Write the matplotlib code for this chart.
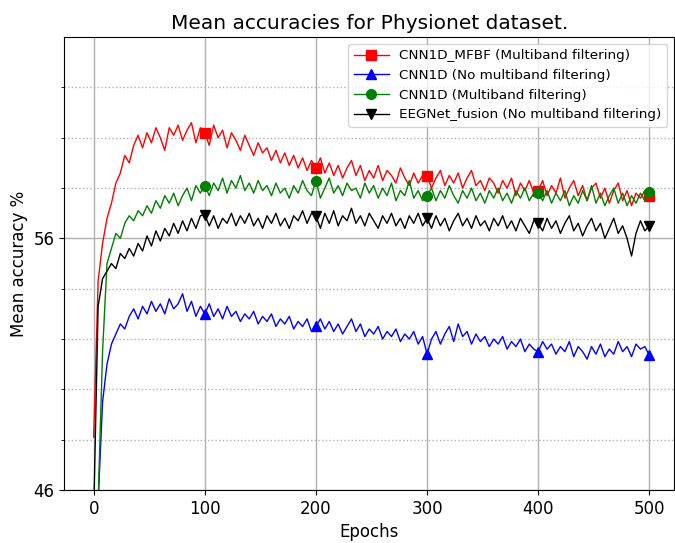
import numpy as np
import matplotlib
matplotlib.use("Agg")
import matplotlib.pyplot as plt
from matplotlib.ticker import MultipleLocator, FixedLocator

epochs = list(range(0, 501, 4))

red_mfbf = [
    48.1, 54.3, 55.8, 56.8, 57.4, 58.2, 58.6, 59.3, 59.0, 59.7,
    60.1, 59.6, 60.2, 59.8, 60.4, 60.0, 59.5, 60.4, 60.1, 60.5,
    59.9, 60.3, 60.6, 59.8, 60.4, 60.2, 59.7, 60.5, 60.0, 60.3,
    59.6, 60.2, 59.9, 59.5, 60.1, 59.7, 59.3, 59.8, 59.4, 59.6,
    59.1, 59.5, 59.0, 59.4, 58.9, 59.3, 58.8, 59.2, 58.7, 59.1,
    58.8, 59.2, 58.6, 59.0, 58.5, 58.9, 58.4, 58.8, 59.1, 58.5,
    58.9, 58.3, 58.7, 58.4, 58.9, 58.3, 58.7, 58.5, 58.2, 58.8,
    58.4, 58.1, 58.6, 58.2, 58.5, 58.5, 58.0, 58.4, 58.7, 58.1,
    58.5, 58.2, 58.6, 58.0, 58.4, 58.7, 58.1, 58.3, 57.9, 58.4,
    58.2, 57.8, 58.3, 58.0, 58.4, 57.7, 58.2, 57.9, 58.3, 57.8,
    57.9, 58.3, 57.7, 58.1, 57.8, 58.4, 57.6, 58.0, 58.3, 57.7,
    58.1, 57.5, 58.0, 58.2, 57.6, 58.0, 57.4, 57.9, 58.2, 57.5,
    57.9, 57.3, 57.8, 57.6, 57.9, 57.7,
]

blue_cnn = [
    43.0, 45.5, 49.5, 51.0, 51.8, 52.2, 52.6, 52.4, 52.9, 53.2,
    52.8, 53.3, 53.0, 53.5, 53.1, 53.4, 53.0, 53.6, 53.2, 53.4,
    53.8, 53.1, 53.5, 52.9, 53.3, 53.0, 53.4, 52.9, 53.2, 52.8,
    53.3, 52.9, 53.1, 52.7, 53.0, 52.8, 53.1, 52.6, 52.9, 52.7,
    53.0, 52.5, 52.8, 52.6, 52.9, 52.4, 52.7, 52.5, 52.8, 52.3,
    52.5, 52.8, 52.4, 52.7, 52.3, 52.6, 52.2, 52.5, 52.8, 52.3,
    52.6, 52.1, 52.4, 52.2, 52.5, 52.0, 52.3, 52.1, 52.4, 51.9,
    52.2, 52.0, 52.3, 51.8, 52.1, 51.4, 52.0, 52.3, 51.8, 52.2,
    52.5, 51.9, 52.6, 52.1, 52.3, 51.8, 52.2, 51.9, 52.1, 51.7,
    52.0, 51.8, 52.1, 51.6, 51.9, 51.7, 52.0, 51.5, 51.8, 51.6,
    51.5, 51.9, 51.6, 51.8, 51.4, 51.7, 51.5, 51.9, 51.3, 51.7,
    51.5, 51.2, 51.7, 51.4, 51.8, 51.3, 51.6, 51.4, 51.9, 51.5,
    51.7, 51.3, 51.8, 51.6, 51.7, 51.35,
]

green_cnn_mb = [
    42.0, 45.5, 51.5, 55.0, 55.6, 56.2, 56.0, 56.6, 56.9, 56.7,
    57.1, 56.9, 57.3, 57.0, 57.5, 57.2, 57.7, 57.4, 57.8, 57.3,
    57.7, 58.0, 57.5, 58.1, 57.8, 58.1, 57.7, 58.2, 57.9, 58.4,
    57.8, 58.3, 58.0, 58.5, 57.9, 58.2, 57.8, 58.3, 57.9, 58.1,
    57.7, 58.2, 57.8, 58.0, 57.6, 58.1, 57.8, 58.3, 57.9, 57.7,
    58.3, 57.6, 58.0, 58.4, 57.8, 58.1, 57.7, 58.2, 57.9, 58.0,
    57.6, 58.2, 57.8, 58.1, 57.6, 58.0, 57.7, 58.2, 57.5, 57.9,
    57.7, 58.3, 57.6, 57.9, 57.5, 57.7, 58.0, 57.5, 57.9, 57.6,
    58.1, 57.7, 57.4, 57.9, 57.6, 58.0, 57.5, 57.8, 57.4, 57.9,
    57.6, 58.0, 57.5, 57.8, 57.4, 57.9, 57.6, 58.0, 57.5, 57.8,
    57.8, 57.5, 57.9, 57.4, 57.8, 57.5, 57.9, 57.3, 57.7, 57.4,
    57.9, 57.5, 58.1, 57.4, 57.8, 57.3, 57.7, 58.0, 57.4, 57.8,
    57.3, 57.7, 57.4, 57.8, 57.5, 57.85,
]

black_eegnet = [
    45.0, 53.3, 54.4, 54.7, 55.0, 54.8, 55.4, 55.2, 55.6, 55.3,
    55.8, 55.5, 56.1, 55.7, 56.3, 55.9, 56.4, 56.1, 56.6, 56.2,
    56.7, 56.3, 56.8, 56.4, 56.9, 56.95, 56.5, 56.9, 56.4, 56.8,
    56.6, 57.0, 56.5, 56.9, 56.6, 57.0, 56.5, 56.8, 56.4, 56.9,
    56.6, 57.0, 56.5, 56.8, 56.4, 56.9, 56.7, 57.1, 56.6, 57.0,
    56.9, 56.4, 57.0, 56.6, 57.1, 56.5, 56.9, 56.7, 57.2, 56.6,
    56.9, 56.5, 57.0, 56.7, 56.4, 56.9, 56.6, 57.0, 56.5, 56.8,
    56.4, 56.9, 56.6, 57.0, 56.5, 56.8, 56.4, 56.9, 56.5, 56.8,
    56.3, 56.7, 57.0, 56.5, 56.8, 56.4, 56.9, 56.5, 56.7, 56.3,
    56.8, 56.5, 56.9, 56.4, 56.7, 56.3, 56.8, 56.5, 56.2, 56.7,
    56.6, 56.3, 56.8, 56.4, 56.7, 56.2, 56.6, 56.9, 56.3, 56.6,
    56.1, 56.5, 56.8, 56.3, 56.6, 56.0, 56.4, 56.8, 56.2, 56.5,
    56.0, 55.3, 56.2, 56.7, 56.3, 56.5,
]

labels = [
    "CNN1D_MFBF (Multiband filtering)",
    "CNN1D (No multiband filtering)",
    "CNN1D (Multiband filtering)",
    "EEGNet_fusion (No multiband filtering)",
]

y_major_ticks = [46, 56, 66]

fig = plt.figure(figsize=(6.75, 5.43), dpi=100)
ax = fig.add_axes([0.0953, 0.0976, 0.9032, 0.834])

series = [red_mfbf, blue_cnn, green_cnn_mb, black_eegnet]
colors = ["red", "blue", "green", "black"]
markers = ["s", "^", "o", "v"]
mark_idx = [i for i, e in enumerate(epochs) if e > 0 and e % 100 == 0]

for ys, c, m, lab in zip(series, colors, markers, labels):
    ax.plot(epochs, ys, color=c, marker=m, markevery=mark_idx,
            markersize=7, linewidth=1, label=lab)

ax.set_xlim(-26.4, 522.2)
ax.set_ylim(46, 64)
ax.xaxis.set_major_locator(MultipleLocator(100))
ax.yaxis.set_major_locator(FixedLocator(y_major_ticks))
ax.yaxis.set_minor_locator(FixedLocator(list(range(48, 64, 2))))
ax.grid(True, which="major", color="#b0b0b0", linewidth=1)
ax.grid(True, which="minor", axis="y", color="#b0b0b0", linestyle=":", linewidth=1)
ax.tick_params(axis="both", which="major", labelsize=12)

ax.set_title("Mean accuracies for Physionet dataset.", fontsize=14.5)
ax.set_xlabel("Epochs", fontsize=12)
ax.set_ylabel("Mean accuracy %", fontsize=12)
ax.legend(loc="upper right", fontsize=9.7, handlelength=2.6)

fig.savefig("out.png", dpi=100)
